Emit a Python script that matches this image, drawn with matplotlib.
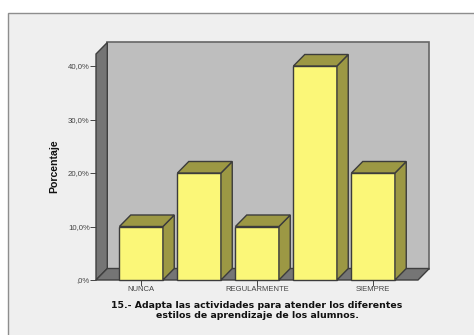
import matplotlib
matplotlib.use("Agg")
import matplotlib.pyplot as plt
from matplotlib.patches import Polygon, Rectangle

categories = ["NUNCA", "A VECES", "REGULARMENTE", "CASI SIEMPRE", "SIEMPRE"]
shown_labels = ["NUNCA", "", "REGULARMENTE", "", "SIEMPRE"]
values = [10, 20, 10, 40, 20]
y_ticks = [0, 10, 20, 30, 40]
y_tick_labels = [",0%", "10,0%", "20,0%", "30,0%", "40,0%"]
title = "15.- Adapta las actividades para atender los diferentes\nestilos de aprendizaje de los alumnos."

W, H = 474, 335
fig = plt.figure(figsize=(W / 100, H / 100), dpi=100, facecolor="white")

# panel background
bg = fig.add_axes([0, 0, 1, 1])
bg.set_xlim(0, W); bg.set_ylim(H, 0); bg.axis("off")
bg.add_patch(Rectangle((8.5, 12.5), 480, 340, fc="#EFEFEF", ec="#8E8E8E", lw=1.0))

# plot axes: the front floor edge of the 3D box
L, R, B, T = 96, 418, 280, 54
ax = fig.add_axes([L / W, 1 - B / H, (R - L) / W, (B - T) / H])
ax.patch.set_visible(False)
px_x = 58.0
px_y = 5.35
ax.set_xlim((L - 141.2) / px_x, (R - 141.2) / px_x)
ax.set_ylim(0, (B - T) / px_y)
dx = 11.3 / px_x
dy = 11.5 / px_y
x0, x1 = ax.get_xlim()
y1 = ax.get_ylim()[1]
edge = "#3C3C3C"

# walls and floor
ax.add_patch(Polygon([(x0 + dx, dy), (x1 + dx, dy), (x1 + dx, y1 + dy), (x0 + dx, y1 + dy)],
                     fc="#BEBEBE", ec="#666666", lw=1.2, clip_on=False, zorder=1))
ax.add_patch(Polygon([(x0, 0), (x0 + dx, dy), (x0 + dx, y1 + dy), (x0, y1)],
                     fc="#757575", ec="#3F3F3F", lw=1.0, clip_on=False, zorder=1.1))
ax.add_patch(Polygon([(x0, 0), (x1, 0), (x1 + dx, dy), (x0 + dx, dy)],
                     fc="#757575", ec="#3F3F3F", lw=1.0, clip_on=False, zorder=1.1))

# 3D bars
w = 0.375
for i, v in enumerate(values):
    ax.add_patch(Rectangle((i - w, 0), 2 * w, v, fc="#FBF778", ec=edge, lw=1.0, zorder=3, clip_on=False))
    ax.add_patch(Polygon([(i + w, 0), (i + w + dx, dy), (i + w + dx, v + dy), (i + w, v)],
                         fc="#9C9844", ec=edge, lw=1.0, zorder=3, clip_on=False))
    ax.add_patch(Polygon([(i - w, v), (i + w, v), (i + w + dx, v + dy), (i - w + dx, v + dy)],
                         fc="#9C9844", ec=edge, lw=1.0, zorder=3, clip_on=False))

for s in ax.spines.values():
    s.set_visible(False)
ax.set_xticks([0, 2, 4])
ax.set_xticklabels([shown_labels[i] for i in (0, 2, 4)], fontsize=5.5, family="Liberation Sans", color="#444444")
ax.set_yticks(y_ticks)
ax.set_yticklabels(y_tick_labels, fontsize=5.6, family="Liberation Sans", color="#444444")
ax.tick_params(axis="x", length=4, width=0.7, color="#444444", pad=0.5)
ax.tick_params(axis="y", length=4, width=0.7, color="#444444", pad=0.5)

bg.text(54, 166, "Porcentaje", rotation=90, ha="center", va="center",
        fontsize=7.6, fontweight="bold", family="Liberation Sans", color="#111111")
bg.text(257, 310.5, title, ha="center", va="center", fontsize=6.72, fontweight="bold",
        family="DejaVu Sans", color="#111111", linespacing=1.12)

fig.savefig("out.png", dpi=100, facecolor="white")
